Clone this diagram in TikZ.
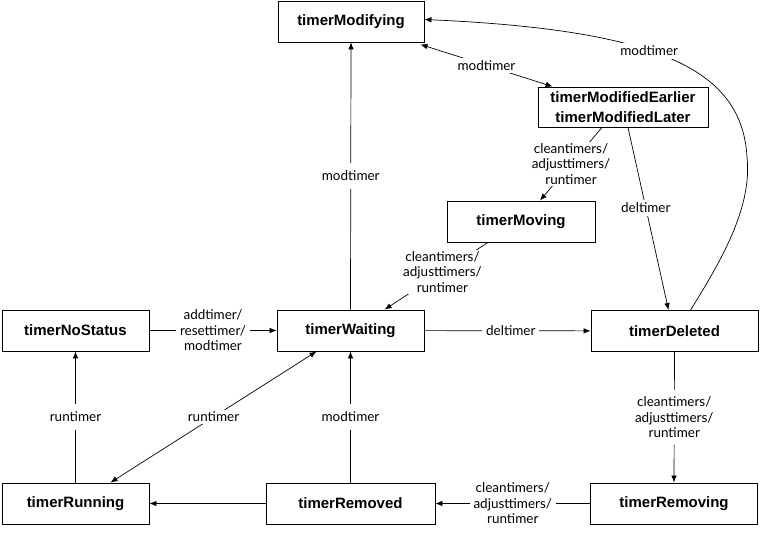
\documentclass[tikz,border=0pt]{standalone}
\usepackage{fontspec}
\setmainfont{Liberation Sans}
\newfontfamily\lblfont{Lato}
\usetikzlibrary{arrows.meta,positioning}
\tikzset{
  state/.style={draw=black, line width=0.9pt, fill=white, inner sep=0pt,
    minimum height=41pt, font=\fontsize{15}{19.5}\selectfont\bfseries, align=center},
  lbl/.style={fill=white, inner xsep=4pt, inner ysep=5pt,
    font=\lblfont\fontsize{13.5}{15.5}\selectfont, align=center, text=black},
  edge/.style={draw=black, line width=0.7pt, -{Latex[length=7pt,width=5.5pt]}},
  bedge/.style={draw=black, line width=0.7pt, {Latex[length=7pt,width=5.5pt]}-{Latex[length=7pt,width=5.5pt]}},
  plain/.style={draw=black, line width=0.7pt}
}
\begin{document}
\begin{tikzpicture}[x=1pt,y=-1pt]
\useasboundingbox (0,0) rectangle (760,535);
% states
\node[state, minimum width=146pt] (mod) at (351,21.5) {timerModifying};
\node[state, minimum width=170pt, minimum height=40pt] (model) at (623,107) {timerModifiedEarlier\\timerModifiedLater};
\node[state, minimum width=148pt] (moving) at (521,221.5) {timerMoving};
\node[state, minimum width=147pt] (nostatus) at (75.5,330.5) {timerNoStatus};
\node[state, minimum width=147pt] (waiting) at (350.5,330.5) {timerWaiting};
\node[state, minimum width=167pt] (deleted) at (674.5,331) {timerDeleted};
\node[state, minimum width=167pt] (removing) at (674,503.5) {timerRemoving};
\node[state, minimum width=147pt] (running) at (75.5,503.5) {timerRunning};
\node[state, minimum width=169pt] (removed) at (350.5,503.5) {timerRemoved};
% edges
\draw[edge] (nostatus) -- node[lbl] {addtimer/\\resettimer/\\modtimer} (waiting);
\draw[edge] (waiting) -- node[lbl, pos=0.52] {deltimer} (deleted);
\draw[edge] (waiting.north) -- node[lbl, inner ysep=8pt] {modtimer} (mod.south);
\draw[bedge] ([xshift=-4pt,yshift=-2pt]mod.south east) -- node[lbl, inner ysep=2pt] {modtimer} ([xshift=15pt]model.north west);
\draw[edge] ([xshift=-21pt]model.south) -- node[lbl, inner ysep=1pt] {cleantimers/\\adjusttimers/\\runtimer} ([xshift=19pt]moving.north);
\draw[edge] ([xshift=5pt]model.south) -- node[lbl, pos=0.44, inner ysep=3pt] {deltimer} ([xshift=-6pt]deleted.north);
\draw[edge] ([xshift=-33pt]moving.south) -- node[lbl, pos=0.44, inner ysep=1pt] {cleantimers/\\adjusttimers/\\runtimer} ([xshift=34pt]waiting.north);
\draw[edge] ([xshift=16pt]deleted.north) .. controls (725,255) and (752,205) .. (747,157)
   .. controls (742,70) and (660,30) .. node[lbl, pos=0.57, inner ysep=3pt] {modtimer} ([yshift=2pt]mod.east);
\draw[edge] (deleted.south) -- node[lbl, inner ysep=7pt] {cleantimers/\\adjusttimers/\\runtimer} (removing.north);
\draw[edge] (removing) -- node[lbl] {cleantimers/\\adjusttimers/\\runtimer} (removed);
\draw[edge] (removed) -- (running);
\draw[edge] (removed.north) -- node[lbl, inner ysep=8pt] {modtimer} (waiting.south);
\draw[edge] (running.north) -- node[lbl, inner ysep=8pt] {runtimer} (nostatus.south);
\draw[bedge] ([xshift=35pt]running.north) -- node[lbl, inner ysep=2pt] {runtimer} ([xshift=-34pt]waiting.south);
\end{tikzpicture}
\end{document}
